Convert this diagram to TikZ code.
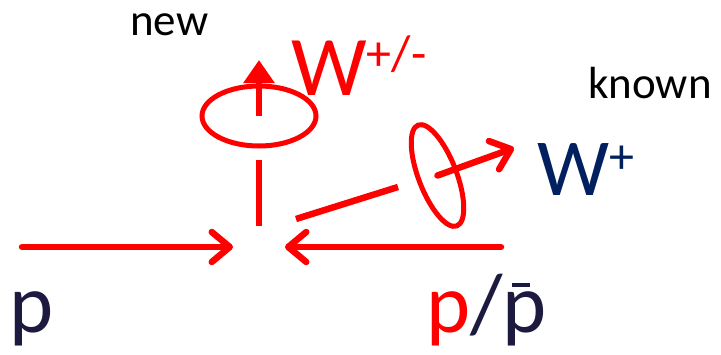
\documentclass[tikz,border=0pt]{standalone}
\usepackage{fontspec}
\setmainfont{Carlito}
\usetikzlibrary{arrows.meta}
\definecolor{wred}{HTML}{FF0000}
\definecolor{wnavy}{HTML}{002060}
\definecolor{pdark}{HTML}{1C1B3F}
\newcommand{\antip}{\rlap{\hspace{9pt}\rule[45pt]{18pt}{4pt}}p}

\begin{document}
\begin{tikzpicture}[x=1pt, y=-1pt,
  beam/.style={draw=wred, line width=6.5pt, line cap=round,
    -{Straight Barb[length=18pt, width=30pt, line cap=round, line join=round]}},
  spin/.style={draw=wred, line width=5pt},
  lbl/.style={inner sep=0pt, anchor=base west}]

\useasboundingbox (0,0) rectangle (721,354);

% Collision point and end points
\coordinate (vtx) at (259,247);
\coordinate (pin) at (22,247);
\coordinate (pbin) at (501,247);
\coordinate (pl) at (233,247);
\coordinate (pr) at (285,247);

% Incoming beams
\draw[beam] (pin) -- (pl);
\draw[beam] (pbin) -- (pr);

% New W: vertical
\coordinate (wlow) at (259,226);
\coordinate (whigh) at (259,160);
\coordinate (wc) at (259,116);
\coordinate (wtip) at (259,60);
\draw[wred, line width=6.5pt] (wlow) -- (whigh);
\draw[spin] (wc) ellipse (57pt and 30pt);
\draw[wred, line width=6.5pt, -{Triangle[length=23pt, width=30pt]}] (wc) -- (wtip);

% Known W: tilted
\coordinate (klow) at (296,219);
\coordinate (khigh) at (398,187);
\coordinate (kc) at (437.5,175.5);
\coordinate (ktip) at (514,148);
\draw[wred, line width=6.5pt] (klow) -- (khigh);
\draw[spin, rotate around={21:(kc)}] (kc) ellipse (19pt and 54pt);
\draw[beam] (kc) -- (ktip);

% Labels
\node[lbl] (new) at (130,35) {\fontsize{45}{54}\selectfont new};
\node[lbl] (known) at (588,98) {\fontsize{45}{54}\selectfont known};
\node[lbl, text=wred] (wpm) at (291,95)
  {\fontsize{85}{90}\selectfont W\raisebox{25pt}{\fontsize{50}{50}\selectfont +/-}};
\node[lbl, text=wnavy] (wp) at (537,195)
  {\fontsize{81}{90}\selectfont W\raisebox{22pt}{\fontsize{50}{50}\selectfont +}};
\node[lbl, text=pdark] (p) at (9,332) {\fontsize{84}{90}\selectfont p};
\node[lbl, text=pdark] (pbar) at (426,332)
  {\fontsize{84}{90}\selectfont\textcolor{wred}{p}/\antip};

\end{tikzpicture}
\end{document}
